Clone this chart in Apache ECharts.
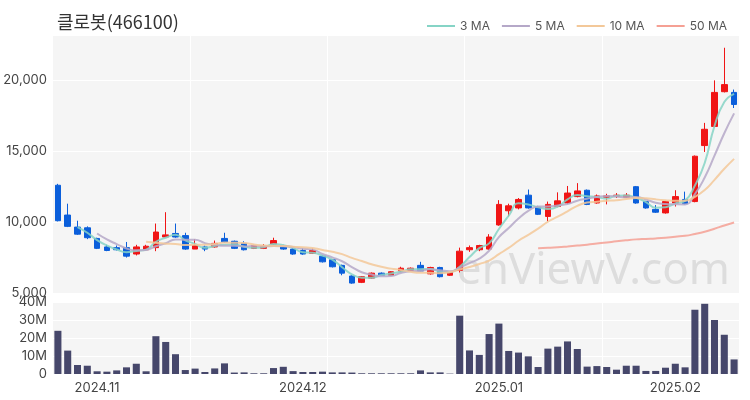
<!DOCTYPE html>
<html><head><meta charset="utf-8">
<script src="https://cdn.jsdelivr.net/npm/echarts@6/dist/echarts.min.js"></script>
<style>html,body{margin:0;padding:0;background:#fff}#c{width:750px;height:400px}</style>
</head><body><div id="c"></div>
<script>
const titleText = '클로봇(466100)';
const dates = [
 '2024-10-28','2024-10-29','2024-10-30','2024-10-31',
 '2024-11-01','2024-11-04','2024-11-05','2024-11-06','2024-11-07','2024-11-08','2024-11-11','2024-11-12','2024-11-13','2024-11-14','2024-11-15',
 '2024-11-18','2024-11-19','2024-11-20','2024-11-21','2024-11-22','2024-11-25','2024-11-26','2024-11-27','2024-11-28','2024-11-29',
 '2024-12-02','2024-12-03','2024-12-04','2024-12-05','2024-12-06','2024-12-09','2024-12-10','2024-12-11','2024-12-12','2024-12-13',
 '2024-12-16','2024-12-17','2024-12-18','2024-12-19','2024-12-20','2024-12-23','2024-12-24','2024-12-26','2024-12-27','2024-12-30',
 '2025-01-02','2025-01-03','2025-01-06','2025-01-07','2025-01-08','2025-01-09','2025-01-10','2025-01-13','2025-01-14','2025-01-15',
 '2025-01-16','2025-01-17','2025-01-20','2025-01-21','2025-01-22','2025-01-23','2025-01-24','2025-01-31',
 '2025-02-03','2025-02-04','2025-02-05','2025-02-06','2025-02-07','2025-02-10','2025-02-11'
];
const opens  = [12600,10500,9650,9600,8850,8250,8200,8200,7750,8050,8200,8950,9200,9050,8100,8250,8250,8850,8650,8500,
                8150,8150,8450,8350,8100,8000,7800,7600,7350,6950,6200,5750,6050,6400,6250,6550,6600,6950,6350,6800,
                6250,6600,8050,8050,8100,9800,10800,11000,11900,11050,10400,11100,11350,11800,12250,11350,11750,11800,11750,12500,
                11450,10900,10650,11350,11600,11450,15400,16750,19200,19150];
const closes = [10100,9700,9150,8900,8150,8000,8050,7600,8250,8300,9300,9100,8950,8100,8350,8100,8500,8600,8150,8050,
                8350,8300,8700,8100,7750,7750,8000,7200,6850,6400,5700,6150,6400,6250,6500,6750,6750,6550,6800,6150,
                6450,7950,8200,8350,8950,11250,11150,11600,11000,10550,11250,11500,12050,12200,11250,11850,11850,11900,11900,11350,
                11000,10700,11450,11800,11300,14650,16550,19150,19700,18300];
const lows   = [10050,9650,9100,8800,8100,7950,8000,7500,7650,8000,7950,8950,8900,8050,8100,7950,8200,8550,8100,8000,
                8100,8100,8400,8050,7700,7700,7750,7150,6800,6250,5650,5700,6000,6200,6200,6500,6550,6500,6300,6100,
                6200,6450,7900,7950,8050,9750,10400,10900,10950,10500,10050,11050,11300,11750,11200,11300,11250,11700,11700,11300,
                10950,10650,10600,11100,11250,11400,14950,16700,19150,18050];
const highs  = [12700,11300,10100,9700,8900,8400,8350,8600,8400,8400,9900,10700,9900,9250,8800,8350,8700,9250,8700,8650,
                8400,8450,8900,8400,8150,8150,8150,7650,7400,7000,6250,6200,6450,6450,6550,6850,6800,7200,6850,6850,
                6500,8200,8350,8400,9150,11550,11300,11700,12300,11150,11450,12100,12550,12750,12300,11950,12000,12050,12050,12550,
                11500,11200,11500,12250,12150,14700,17000,20000,22300,19350];
const volumesM = [24,13,5,4.6,1.5,1.3,2,3.7,5.7,1.5, 21,17.8,11,2.2,3,1.1,3.1,5.9,0.8,0.9,
                  0.4,0.4,3.3,4,1.6,1.1,1.1,1.3,0.9,0.9, 0.8,0.4,0.4,0.4,0.4,0.4,0.4,2,0.9,0.9,
                  0.2,32.4,13.1,10.6,22.2,28,12.8,11.9,9.8,3.9, 14.1,15.2,18.1,13.9,4.1,4.4,3.9,2.4,4.6,4.6,
                  1.7,1.7,3.5,5.7,3.7,35.7,39,30,21.8,8.1];
const maPeriods = [3,5,10,50];
const maNames = ['3 MA','5 MA','10 MA','50 MA'];
const maColors = ['#86d4c6','#b5a8c8','#f3c899','#f5a094'];
const priceTicks = [5000,10000,15000,20000];
const volumeTicks = [0,10,20,30,40];

const UP = '#f01515', DOWN = '#0b5fdb';
function ma(n){
  return closes.map((c,i)=>{
    if(i<n-1) return '-';
    let s=0; for(let k=i-n+1;k<=i;k++) s+=closes[k];
    return +(s/n).toFixed(1);
  });
}
const ohlc = dates.map((d,i)=>[opens[i],closes[i],lows[i],highs[i]]);
const vols = volumesM.map(v=>v*1e6);
const monthFirst = dates.map((d,i)=> i===0 ? false : d.slice(0,7)!==dates[i-1].slice(0,7));

const chart = echarts.init(document.getElementById('c'), null, {renderer:'canvas'});
const font = 'Inter, "Noto Sans", sans-serif';
const option = {
  animation:false,
  backgroundColor:'#fff',
  title:{text:titleText,left:52,top:8,textStyle:{fontSize:18,fontWeight:'normal',color:'#333',fontFamily:'"Noto Sans CJK KR", sans-serif'}},
  legend:{right:18,top:15,itemWidth:28,itemHeight:2,itemGap:12,icon:'rect',
    textStyle:{fontSize:12,color:'#555',fontFamily:font},
    data:maNames},
  graphic:[{type:'text',right:20,top:249,z:1,silent:true,
    style:{text:'enViewV.com',fontSize:44,fontFamily:'"Noto Sans", sans-serif',fill:'rgba(200,200,200,0.55)'}}],
  grid:[
    {left:53,right:11,top:35,height:258,show:true,backgroundColor:'#f5f5f5',borderWidth:0},
    {left:53,right:11,top:302,height:72,show:true,backgroundColor:'#f5f5f5',borderWidth:0}
  ],
  xAxis:[
    {type:'category',gridIndex:0,data:dates,boundaryGap:true,
     axisLine:{show:false},axisTick:{show:false},axisLabel:{show:false},
     splitLine:{show:true,interval:(i)=>i%14===0 && i>0,lineStyle:{color:'#ffffff',width:1}}},
    {type:'category',gridIndex:1,data:dates,boundaryGap:true,
     axisLine:{show:false},axisTick:{show:false},
     axisLabel:{interval:(i)=>monthFirst[i],formatter:(v)=>v.slice(0,4)+'.'+v.slice(5,7),fontSize:13,color:'#444',fontFamily:font,margin:8},
     splitLine:{show:true,interval:(i)=>i%14===0 && i>0,lineStyle:{color:'#ffffff',width:1}}}
  ],
  yAxis:[
    {type:'value',gridIndex:0,min:5000,max:23200,interval:5000,
     axisLine:{show:false},axisTick:{show:false},
     axisLabel:{showMaxLabel:false,fontSize:13,color:'#444',fontFamily:font,margin:6,
       formatter:(v)=>priceTicks.includes(v)?v.toLocaleString('en-US'):''},
     splitLine:{show:true,lineStyle:{color:'#ffffff',width:1}}},
    {type:'value',gridIndex:1,min:0,max:40e6,interval:10e6,
     axisLine:{show:false},axisTick:{show:false},
     axisLabel:{fontSize:13,color:'#444',fontFamily:font,margin:6,
       formatter:(v)=>{const m=v/1e6; return volumeTicks.includes(m)?(m===0?'0':m+'M'):'';}},
     splitLine:{show:true,lineStyle:{color:'#ffffff',width:1}}}
  ],
  series:[
    {type:'candlestick',name:'price',xAxisIndex:0,yAxisIndex:0,data:ohlc,barWidth:'62%',z:3,
     itemStyle:{color:UP,color0:DOWN,borderColor:UP,borderColor0:DOWN,borderWidth:1}},
    ...maPeriods.map((p,k)=>({type:'line',name:maNames[k],xAxisIndex:0,yAxisIndex:0,data:ma(p),
      smooth:true,showSymbol:false,symbol:'none',z:4,
      lineStyle:{width:2,color:maColors[k],opacity:0.85},itemStyle:{color:maColors[k]}})),
    {type:'bar',name:'volume',xAxisIndex:1,yAxisIndex:1,data:vols,barWidth:'72%',
     itemStyle:{color:'#46476b'}}
  ]
};
chart.setOption(option);
</script>
</body></html>
